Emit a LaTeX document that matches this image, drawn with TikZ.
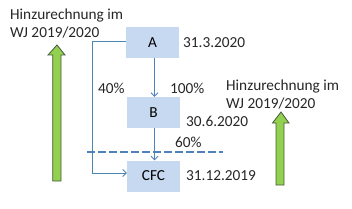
\documentclass[tikz,border=0pt]{standalone}
\usepackage{fontspec}
\setmainfont{Carlito}
\usetikzlibrary{arrows.meta}
\definecolor{cBox}{RGB}{198,217,241}
\definecolor{cLine}{RGB}{79,129,189}
\definecolor{cLink}{RGB}{74,134,176}
\definecolor{cGreen}{RGB}{146,208,80}
\definecolor{cEdge}{RGB}{70,90,60}
\tikzset{
	box/.style  ={rectangle, minimum width=53pt, minimum height=31pt, inner sep=0pt, fill=cBox, text=black},
	lbl/.style  ={anchor=west, inner sep=0pt, text=black!85},
	flow/.style ={-{Straight Barb[length=3.5pt,width=7pt]}, cLine, line width=0.9pt},
	link/.style ={-{Straight Barb[length=3.5pt,width=7pt]}, cLink, line width=0.9pt},
	cut/.style  ={cLine, line width=2.2pt, dash pattern=on 8pt off 3pt},
	uparrow/.style={fill=cGreen, draw=cEdge, line width=0.8pt},
}
\begin{document}
\begin{tikzpicture}[x=1pt, y=-1pt, font=\fontsize{15.3}{18}\selectfont]
	\useasboundingbox (0,0) rectangle (352,208);
	% boxes
	\node[box] (a)   at (152.5,42.5) {A};
	\node[box] (b)   at (153.5,112.5) {B};
	\node[box] (cfc) at (153.5,176) {CFC};
	% dates
	\node[lbl] (da)   at (183,43)  {31.3.2020};
	\node[lbl] (db)   at (186,121) {30.6.2020};
	\node[lbl] (dcfc) at (186,176) {31.12.2019};
	% shares
	\node[lbl] (p40)  at (98,88)   {40\%};
	\node[lbl] (p100) at (170,88)  {100\%};
	\node[lbl] (p60)  at (175,142) {60\%};
	% arrows between the boxes
	\draw[flow] ([xshift=2pt]a.south) -- ([xshift=1pt]b.north);
	\draw[flow] ([xshift=1pt]b.south) -- ([xshift=1pt]cfc.north);
	\draw[link] ([yshift=1.5pt]a.west) -- ++(-33,0) |- ([yshift=3pt]cfc.west);
	% cut line
	\draw[cut] (87,152) -- (223,152);
	% texts above the green arrows
	\node[lbl, align=left] (hl) at (10,24)  {Hinzurechnung im\\WJ 2019/2020};
	\node[lbl, align=left] (hr) at (226,95) {Hinzurechnung im\\WJ 2019/2020};
	% green arrows
	\draw[uparrow] (52.7,181) -- (52.7,55) -- (48,55) -- (57,45) -- (65,55) -- (61,55) -- (61,181) -- cycle;
	\draw[uparrow] (276,185) -- (276,123) -- (272.5,123) -- (281,112) -- (289,123) -- (284,123) -- (284,185) -- cycle;
\end{tikzpicture}
\end{document}
